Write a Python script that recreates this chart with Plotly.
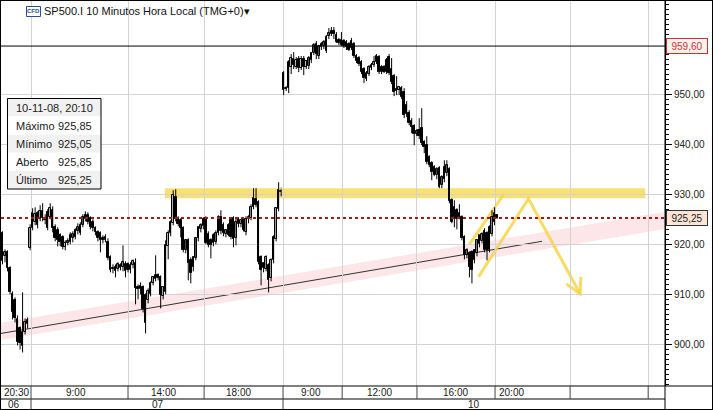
import plotly.graph_objects as go

# ---------------- data (10-minute candles, SP500.I) ----------------
opens = [922.2, 917.6, 918.4, 915.2, 910.0, 908.8, 905.0, 903.2, 899.6, 902.4, 904.0,
         919.2, 923.2, 924.4, 926.2, 925.0, 926.6, 925.2, 926.4, 925.4, 926.8,
         923.4, 922.8, 921.8, 921.4, 919.4, 920.2, 920.4, 921.2, 921.4, 922.6,
         922.2, 923.8, 925.0, 925.8, 925.2, 924.4, 923.2, 922.4, 922.2, 921.2,
         920.8, 920.4, 917.4, 915.2, 914.6, 915.0, 915.2, 915.4, 916.0, 916.0,
         914.8, 915.8, 916.2, 911.4, 911.0, 911.4, 909.8, 908.8, 910.0, 912.2,
         913.0, 913.8, 913.4, 909.6, 910.4, 919.6, 922.2, 924.2, 929.4, 925.0,
         924.8, 923.2, 918.8, 920.8, 916.8, 915.4, 917.2, 921.2, 923.0, 923.6,
         925.2, 922.0, 920.8, 920.2, 920.4, 922.2, 925.4, 923.8, 922.0, 923.8,
         924.8, 925.2, 921.2, 924.0, 924.0, 925.0, 922.4, 925.0, 925.2, 927.4,
         929.0, 928.4, 917.4, 915.2, 915.0, 915.8, 913.2, 916.8, 921.0, 927.0,
         930.4,
         954.2, 951.0, 951.2, 955.4, 957.0, 955.4, 957.0, 955.2, 957.0, 955.4,
         955.6, 956.8, 958.2, 960.0, 957.6, 959.4, 959.6, 958.6, 961.6, 962.0,
         962.6, 961.8, 960.8, 960.8, 960.6, 960.4, 960.0, 960.6, 960.0, 957.6,
         957.2, 956.4, 955.0, 953.0, 954.0, 955.2, 955.8, 956.4, 957.4, 954.4,
         955.4, 954.4, 957.4, 955.0, 953.6, 951.0, 950.8, 951.2, 950.4, 947.8,
         946.2, 944.6, 943.6, 942.0, 942.8, 943.2, 940.4, 939.8, 937.4, 936.2,
         935.4, 933.8, 935.2, 931.8, 933.0, 934.2, 935.0, 928.8, 927.4, 926.8,
         926.2, 925.4, 921.4, 917.8, 918.2, 918.4, 916.8, 918.2, 920.0, 920.6,
         922.6, 922.2, 918.8, 922.0, 924.4, 925.85]
highs = [922.6, 919.0, 918.8, 915.6, 910.6, 909.4, 905.8, 903.6, 910.4, 905.2, 905.4,
         924.0, 927.2, 927.4, 926.6, 927.8, 928.2, 926.0, 927.0, 928.2, 927.6,
         924.0, 923.4, 922.2, 921.8, 920.8, 921.2, 922.4, 922.6, 923.2, 924.2,
         924.4, 926.0, 926.6, 926.4, 925.6, 925.0, 923.6, 922.8, 922.6, 921.8,
         922.0, 921.2, 917.8, 916.0, 916.0, 916.4, 916.2, 919.8, 916.6, 916.4,
         916.4, 917.0, 917.2, 912.0, 912.4, 911.8, 910.2, 911.2, 912.6, 913.6,
         917.8, 914.2, 913.8, 911.6, 920.8, 922.8, 924.8, 930.8, 931.0, 925.6,
         925.2, 923.6, 921.0, 921.2, 917.4, 917.6, 921.4, 923.6, 924.2, 925.4,
         925.6, 922.6, 921.2, 922.2, 922.8, 925.8, 926.8, 924.4, 923.0, 924.2,
         925.2, 925.6, 925.2, 925.4, 925.0, 925.4, 925.6, 925.8, 928.0, 931.2,
         931.2, 928.8, 917.8, 916.4, 917.8, 916.2, 917.2, 921.8, 927.4, 932.4,
         931.0,
         954.6, 951.6, 956.8, 958.0, 958.4, 957.4, 957.6, 957.6, 957.6, 956.8,
         957.6, 958.4, 960.2, 960.6, 959.8, 960.4, 960.8, 961.8, 963.2, 963.4,
         963.4, 962.4, 961.2, 962.4, 961.0, 960.8, 960.4, 961.2, 960.4, 958.0,
         957.6, 956.8, 955.4, 954.6, 955.8, 956.2, 957.6, 958.0, 957.8, 955.8,
         955.8, 957.2, 958.0, 957.2, 954.0, 953.6, 951.6, 951.6, 951.2, 948.6,
         946.8, 945.2, 944.0, 943.0, 945.2, 947.2, 940.8, 941.6, 937.8, 936.6,
         935.8, 935.4, 935.6, 933.8, 936.8, 936.8, 935.4, 929.2, 928.8, 927.2,
         928.0, 925.8, 921.8, 919.2, 918.6, 918.8, 919.0, 921.0, 921.8, 922.4,
         923.2, 922.6, 923.8, 926.8, 927.4, 925.85]
lows = [916.0, 916.4, 914.6, 910.0, 905.0, 904.4, 899.8, 899.0, 898.4, 902.0, 903.2,
        918.8, 922.8, 923.8, 923.2, 924.6, 924.6, 924.0, 922.8, 925.0, 922.4,
        920.6, 919.6, 919.6, 919.0, 918.8, 919.8, 920.0, 920.4, 921.0, 922.0,
        921.8, 923.4, 924.6, 924.0, 923.0, 922.6, 921.8, 920.6, 918.4, 920.2,
        920.4, 916.8, 914.4, 914.2, 913.4, 914.6, 914.8, 914.6, 913.4, 914.4,
        914.2, 915.2, 908.0, 909.0, 910.0, 906.4, 902.2, 908.2, 909.6, 911.8,
        912.6, 912.8, 907.2, 909.0, 910.0, 917.0, 921.6, 923.8, 924.6, 923.6,
        921.4, 918.4, 918.2, 912.8, 912.2, 914.6, 916.8, 920.6, 922.4, 923.0,
        920.0, 919.4, 917.2, 919.6, 920.0, 921.8, 922.0, 921.6, 921.4, 921.6,
        921.0, 919.4, 919.8, 923.4, 923.4, 922.6, 921.8, 924.2, 924.8, 927.0,
        927.4, 916.0, 911.8, 914.4, 914.6, 910.4, 912.6, 916.2, 920.6, 926.6,
        929.6,
        949.8, 950.6, 950.2, 954.0, 955.0, 955.0, 954.4, 954.8, 953.8, 955.0,
        955.0, 956.2, 957.8, 957.0, 957.0, 958.8, 959.0, 958.2, 961.0, 961.6,
        961.0, 960.2, 959.8, 959.6, 959.2, 958.8, 958.6, 958.8, 957.2, 956.2,
        955.6, 954.0, 952.2, 952.6, 953.6, 954.8, 955.4, 956.0, 954.0, 954.0,
        954.2, 954.0, 953.8, 952.0, 949.6, 949.8, 949.8, 949.0, 945.2, 945.4,
        943.8, 942.2, 939.8, 941.6, 941.0, 939.8, 938.2, 936.0, 935.4, 932.8,
        933.6, 933.0, 931.2, 931.2, 932.4, 933.6, 928.2, 924.2, 923.4, 923.0,
        925.0, 920.8, 917.0, 917.2, 913.4, 912.2, 916.2, 917.6, 919.4, 920.2,
        918.4, 916.8, 918.4, 921.6, 923.8, 925.05]
closes = [916.6, 918.4, 915.2, 910.4, 906.4, 905.2, 900.4, 900.2, 902.4, 904.4, 904.8,
          923.2, 926.2, 926.0, 923.8, 926.6, 925.2, 924.8, 923.2, 927.2, 923.2,
          921.2, 920.8, 920.4, 919.4, 920.2, 920.6, 921.8, 922.0, 922.8, 923.4,
          923.8, 925.4, 925.8, 924.4, 923.4, 923.2, 922.4, 921.2, 920.8, 920.8,
          921.4, 917.2, 914.8, 915.0, 915.4, 916.0, 915.8, 916.4, 914.6, 914.8,
          915.8, 916.6, 911.2, 911.0, 911.6, 907.0, 904.2, 910.6, 912.2, 913.4,
          913.8, 913.2, 909.8, 911.4, 919.8, 922.2, 924.4, 929.8, 925.0, 924.0,
          923.2, 918.8, 920.8, 916.2, 914.2, 917.4, 921.2, 923.4, 923.8, 925.0,
          920.2, 919.8, 919.8, 921.8, 922.2, 925.4, 922.6, 922.2, 922.8, 921.8,
          921.4, 921.0, 924.4, 925.0, 924.8, 922.8, 925.0, 925.4, 927.4, 929.2,
          927.8, 916.4, 914.8, 916.2, 917.4, 912.8, 916.8, 921.4, 927.2, 930.8,
          930.6,
          950.8, 951.2, 956.4, 957.2, 955.8, 956.8, 955.2, 957.0, 955.4, 956.6,
          957.2, 958.2, 959.8, 958.0, 959.6, 960.0, 960.4, 961.4, 962.2, 962.6,
          962.0, 960.4, 960.2, 959.8, 959.6, 959.4, 958.8, 959.2, 957.6, 956.6,
          956.0, 954.4, 953.2, 954.2, 955.4, 955.8, 956.4, 957.6, 954.4, 955.4,
          954.4, 956.8, 954.2, 952.4, 950.4, 950.6, 951.4, 949.4, 945.8, 946.0,
          944.2, 943.4, 942.0, 942.6, 941.6, 940.2, 939.4, 936.4, 935.8, 934.4,
          933.8, 935.0, 931.4, 933.4, 935.4, 935.8, 928.6, 924.4, 925.4, 925.0,
          925.4, 921.2, 917.8, 918.8, 915.4, 914.8, 918.8, 920.8, 921.8, 922.0,
          918.8, 918.8, 923.4, 925.4, 926.2, 925.25]
slots = list(range(len(closes)))

time_labels = ["20:30", "9:00", "14:00", "18:00", "9:00", "12:00", "16:00", "20:00"]
time_label_slots = [-0.6, 29.3, 64.3, 94.0, 122.8, 150.0, 180.3, 196.6]
date_labels = ["06", "07", "10"]
date_label_slots = [4.6, 62.0, 187.8]
boundaries = [11.35, 50.0, 80.3, 111.75, 135.3, 165.1, 196.2, 226.1, 257.2]
price_ticks = [900, 910, 920, 930, 940, 950]

last_price = 925.25
ref_line = 959.60
resistance = 930.2
info_rows = [("10-11-08, 20:10", ""), ("Máximo", "925,85"), ("Mínimo", "925,05"),
             ("Aberto", "925,85"), ("Último", "925,25")]

# ---------------- geometry ----------------
W, H = 713, 410
ML, MR, MT, MB = 1, 48, 1, 24
PW = W - ML - MR
PH = H - MT - MB
X0, X1 = -0.6, 263.9
Y0, Y1 = 891.7, 968.6
FONT = "Liberation Sans, Arial, sans-serif"


def px(x):
    return (x - ML) / PW


def py(y):
    return 1 - (y - MT) / PH


fig = go.Figure()

# wicks (high-low) built from the data arrays
wx, wy = [], []
for k, h, l in zip(slots, highs, lows):
    wx += [k, k, None]
    wy += [l, h, None]
fig.add_trace(go.Scatter(x=wx, y=wy, mode="lines", line=dict(color="black", width=1),
                         hoverinfo="skip", showlegend=False))
# bodies
body_base = [min(o, c) for o, c in zip(opens, closes)]
body_len = [max(abs(c - o), 0.05) for o, c in zip(opens, closes)]
body_fill = ["white" if c >= o else "black" for o, c in zip(opens, closes)]
fig.add_trace(go.Bar(x=slots, y=body_len, base=body_base, width=0.62,
                     marker=dict(color=body_fill, line=dict(color="black", width=1)),
                     hoverinfo="skip", showlegend=False))

shapes = []
# trend band and trend line
shapes.append(dict(type="line", xref="x", yref="y", x0=-0.6, y0=902.6, x1=263.9, y1=924.8,
                   line=dict(color="rgba(240,140,155,0.22)", width=17), layer="below"))
shapes.append(dict(type="line", xref="x", yref="y", x0=-0.6, y0=902.2, x1=214.9, y1=920.6,
                   line=dict(color="#333333", width=1), layer="below"))
# resistance band
shapes.append(dict(type="line", xref="x", yref="y", x0=64.7, y0=resistance, x1=256.0, y1=resistance,
                   line=dict(color="rgba(246,210,50,0.68)", width=10), layer="below"))
# projection lines
ycol = "rgba(247,210,60,0.8)"
shapes.append(dict(type="line", xref="x", yref="y", x0=186.0, y0=920.0, x1=199.8, y1=930.1,
                   line=dict(color=ycol, width=3), layer="below"))
shapes.append(dict(type="path", xref="x", yref="y",
                   path="M 189.6 913.5 L 209.5 929.1 L 230.1 910.1",
                   line=dict(color=ycol, width=3), layer="below"))
shapes.append(dict(type="path", xref="x", yref="y",
                   path="M 224.6 912.1 L 230.1 910.1 L 230.4 913.5",
                   line=dict(color=ycol, width=3), layer="below"))
# horizontal reference lines
shapes.append(dict(type="line", xref="paper", yref="y", x0=0, x1=1, y0=ref_line, y1=ref_line,
                   line=dict(color="black", width=1)))
shapes.append(dict(type="line", xref="paper", yref="y", x0=0, x1=1, y0=last_price, y1=last_price,
                   line=dict(color="#9b1c1c", width=2, dash="dot")))

# frame / bottom axis rows
blk = dict(color="black", width=1)
shapes += [
    dict(type="line", xref="paper", yref="paper", x0=px(0), x1=px(712.5), y0=py(0.5), y1=py(0.5), line=blk),
    dict(type="line", xref="paper", yref="paper", x0=px(0.5), x1=px(0.5), y0=py(0), y1=py(410), line=blk),
    dict(type="line", xref="paper", yref="paper", x0=px(712.5), x1=px(712.5), y0=py(0), y1=py(410), line=blk),
    dict(type="line", xref="paper", yref="paper", x0=px(0), x1=px(713), y0=py(409.5), y1=py(409.5), line=blk),
    dict(type="line", xref="paper", yref="paper", x0=px(0), x1=px(713), y0=py(386), y1=py(386), line=blk),
    dict(type="line", xref="paper", yref="paper", x0=px(0), x1=px(665), y0=py(399), y1=py(399), line=blk),
    dict(type="line", xref="paper", yref="paper", x0=1, x1=1, y0=py(0), y1=py(410), line=blk),
]
for b in boundaries:
    shapes.append(dict(type="line", xref="x", yref="paper", x0=b, x1=b, y0=py(386), y1=py(399),
                       line=dict(color="#444444", width=1)))
for b in (boundaries[0], boundaries[3]):
    shapes.append(dict(type="line", xref="x", yref="paper", x0=b, x1=b, y0=py(399), y1=py(409.5),
                       line=dict(color="#444444", width=1)))

# info box
bx0, bx1, by0, by1 = 7.5, 101, 98.5, 189
rh = (by1 - by0) / len(info_rows)
for i in range(len(info_rows)):
    shapes.append(dict(type="rect", xref="paper", yref="paper", x0=px(bx0), x1=px(bx1),
                       y0=py(by0 + (i + 1) * rh), y1=py(by0 + i * rh),
                       fillcolor="#f1f1f1" if i % 2 == 0 else "white", line=dict(width=0)))
shapes.append(dict(type="rect", xref="paper", yref="paper", x0=px(bx0), x1=px(bx1),
                   y0=py(by1), y1=py(by0), line=dict(color="black", width=1)))
# CFD icon
shapes.append(dict(type="rect", xref="paper", yref="paper", x0=px(26.5), x1=px(40.5),
                   y0=py(16.5), y1=py(6.5), fillcolor="white", line=dict(color="#2a4b9b", width=1)))

annotations = []
txt = "#1a1a1a"
for lab, s in zip(time_labels, time_label_slots):
    left = lab in ("20:30",) or s == time_label_slots[-1]
    annotations.append(dict(xref="x", yref="paper", x=s + (0.2 if left else 0), y=py(392.5), text=lab,
                            showarrow=False, xanchor="left" if left else "center", yanchor="middle",
                            font=dict(family=FONT, size=10, color=txt)))
for lab, s in zip(date_labels, date_label_slots):
    annotations.append(dict(xref="x", yref="paper", x=s, y=py(404.5), text=lab, showarrow=False,
                            xanchor="center", yanchor="middle", font=dict(family=FONT, size=10, color=txt)))
for i, (lab, val) in enumerate(info_rows):
    cy = by0 + (i + 0.5) * rh
    annotations.append(dict(xref="paper", yref="paper", x=px(13.5), y=py(cy), text=lab, showarrow=False,
                            xanchor="left", yanchor="middle", font=dict(family=FONT, size=11, color=txt)))
    if val:
        annotations.append(dict(xref="paper", yref="paper", x=px(94), y=py(cy), text=val, showarrow=False,
                                xanchor="right", yanchor="middle", font=dict(family=FONT, size=11, color=txt)))
annotations.append(dict(xref="paper", yref="paper", x=px(33.5), y=py(11.5), text="<b>CFD</b>", showarrow=False,
                        xanchor="center", yanchor="middle", font=dict(family=FONT, size=6, color="#2a4b9b")))
annotations.append(dict(xref="paper", yref="paper", x=px(41.5), y=py(11.5),
                        text="SP500.I 10 Minutos Hora Local (TMG+0)\u25be", showarrow=False,
                        xanchor="left", yanchor="middle", font=dict(family=FONT, size=11, color="#111111")))
annotations.append(dict(xref="x", yref="y", x=111.0, y=931.0, text="!", showarrow=False,
                        font=dict(family=FONT, size=8, color="#b8860b")))
# price tags on the right axis
annotations.append(dict(xref="paper", yref="y", x=px(666), y=ref_line, text="959,60", showarrow=False,
                        xanchor="left", yanchor="middle", width=38, height=12, borderpad=1,
                        bgcolor="#fff3ee", bordercolor="#c83232", borderwidth=1,
                        font=dict(family=FONT, size=10, color="#c83232")))
annotations.append(dict(xref="paper", yref="y", x=px(666), y=last_price, text="925,25", showarrow=False,
                        xanchor="left", yanchor="middle", width=38, height=12, borderpad=1,
                        bgcolor="#fce4d6", bordercolor="#333333", borderwidth=1,
                        font=dict(family=FONT, size=10, color="#222222")))

fig.update_layout(
    width=W, height=H, margin=dict(l=ML, r=MR, t=MT, b=MB, autoexpand=False),
    paper_bgcolor="white", plot_bgcolor="white",
    separators=",.", showlegend=False, barmode="overlay", bargap=0,
    shapes=shapes, annotations=annotations,
    font=dict(family=FONT, size=10, color=txt),
    xaxis=dict(range=[X0, X1], tickvals=boundaries, showticklabels=False, ticks="",
               showgrid=True, gridcolor="#d2d2d2", gridwidth=1, zeroline=False, showline=False,
               fixedrange=True),
    yaxis=dict(side="right", range=[Y0, Y1], tickmode="array", tickvals=price_ticks, tickformat=".2f",
               showgrid=True, gridcolor="#d2d2d2", gridwidth=1, zeroline=False,
               ticks="outside", ticklen=6, tickcolor="black", showline=True, linecolor="black",
               linewidth=1, tickfont=dict(family=FONT, size=10, color="#222222"),
               minor=dict(tickmode="linear", tick0=890, dtick=1, ticks="outside", ticklen=3,
                          tickcolor="black", showgrid=False),
               fixedrange=True),
)

fig.write_html("out.html", config=dict(displayModeBar=False),
               post_script="document.body.style.margin='0';")
